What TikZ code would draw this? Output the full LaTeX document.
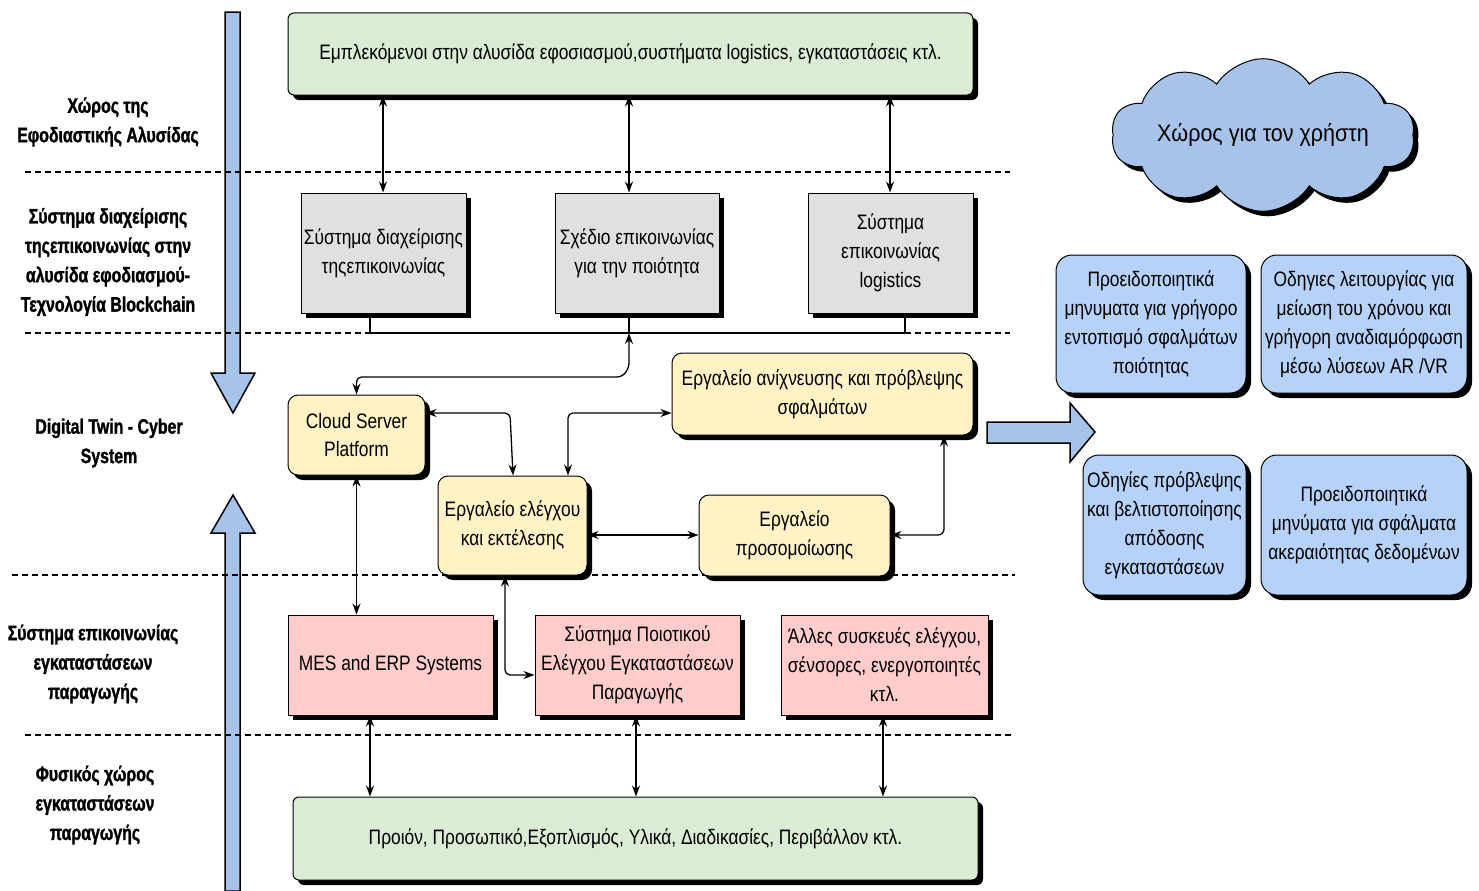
\documentclass[tikz,border=0pt]{standalone}
\usepackage{fontspec}
\setmainfont{Liberation Sans}
\newfontfamily\condfont{Liberation Sans}[FakeStretch=0.83]
\newfontfamily\lblfont{Liberation Sans Bold}[FakeStretch=0.76,FakeBold=1.3]
\newfontfamily\cloudfont{Liberation Sans}[FakeStretch=0.9]
\usetikzlibrary{shapes.symbols,shadows,arrows.meta,calc}

\definecolor{boxgreen}{RGB}{219,236,213}
\definecolor{boxgray}{RGB}{224,224,224}
\definecolor{boxyellow}{RGB}{255,242,196}
\definecolor{boxpink}{RGB}{255,204,204}
\definecolor{boxblue}{RGB}{183,210,248}
\definecolor{flowblue}{RGB}{167,195,234}

\tikzset{
  shade box/.style={draw=black, line width=1bp, align=center,
    font=\condfont\fontsize{21}{29}\selectfont, inner sep=2bp,
    drop shadow={shadow xshift=5bp, shadow yshift=-5bp, fill=black, opacity=1}},
  gbox/.style={shade box, fill=boxgreen, rounded corners=6bp},
  graybox/.style={shade box, fill=boxgray},
  ybox/.style={shade box, fill=boxyellow, rounded corners=10bp},
  pbox/.style={shade box, fill=boxpink},
  bbox/.style={shade box, fill=boxblue, rounded corners=16bp},
  lbl/.style={align=center, font=\lblfont\fontsize{21}{29.5}\selectfont, inner sep=0pt},
  conn/.style={line width=1.3bp, >={Stealth[length=11bp,width=8bp]}, <->},
  plain/.style={line width=1.3bp},
  layer/.style={line width=1.5bp, dash pattern=on 6bp off 4bp},
  flow/.style={draw=black, line width=1.5bp, fill=flowblue, line join=miter},
}

\begin{document}
\begin{tikzpicture}[x=1bp, y=-1bp]
\useasboundingbox (0,0) rectangle (1479,890);
\fill[white] (0,0) rectangle (1479,890);

% vertical flow arrows on the left
\draw[flow] (225,12) -- (240,12) -- (240,373) -- (255,373) -- (233,413)
  -- (211,373) -- (225,373) -- cycle;
\draw[flow] (233,495) -- (255,533) -- (240,533) -- (240,891) -- (225,891)
  -- (225,533) -- (211,533) -- cycle;

% layer separators
\draw[layer] (25,172) -- (1010,172);
\draw[layer] (25,333) -- (1010,333);
\draw[layer] (12,575) -- (1015,575);
\draw[layer] (25,735) -- (1012,735);

% layer labels
\node[lbl] (l1) at (108,122) {Χώρος της\\Εφοδιαστικής Αλυσίδας};
\node[lbl] (l2) at (108,262) {Σύστημα διαχείρισης\\τηςεπικοινωνίας στην\\αλυσίδα εφοδιασμού-\\Τεχνολογία Blockchain};
\node[lbl] (l3) at (109,443) {Digital Twin - Cyber\\System};
\node[lbl] (l4) at (93,664) {Σύστημα επικοινωνίας\\εγκαταστάσεων\\παραγωγής};
\node[lbl] (l5) at (95,805) {Φυσικός χώρος\\εγκαταστάσεων\\παραγωγής};

% supply chain layer
\node[gbox, minimum width=685bp, minimum height=82bp] (chain) at (630.5,54)
  {Εμπλεκόμενοι στην αλυσίδα εφοσιασμού,συστήματα logistics, εγκαταστάσεις κτλ.};

% communication management layer
\node[graybox, minimum width=165bp, minimum height=120bp] (g1) at (383.5,253)
  {Σύστημα διαχείρισης\\τηςεπικοινωνίας};
\node[graybox, minimum width=164bp, minimum height=120bp] (g2) at (637,253)
  {Σχέδιο επικοινωνίας\\για την ποιότητα};
\node[graybox, minimum width=165bp, minimum height=120bp] (g3) at (890.5,253)
  {Σύστημα\\επικοινωνίας\\logistics};

% digital twin layer
\node[ybox, minimum width=137bp, minimum height=80bp] (cs) at (356.5,435)
  {Cloud Server\\Platform};
\node[ybox, minimum width=301bp, minimum height=82bp] (det) at (822.5,394)
  {Εργαλείο ανίχνευσης και πρόβλεψης\\σφαλμάτων};
\node[ybox, minimum width=149bp, minimum height=99bp] (ctl) at (512.5,525.5)
  {Εργαλείο ελέγχου\\και εκτέλεσης};
\node[ybox, minimum width=191bp, minimum height=81bp] (sim) at (794.5,535.5)
  {Εργαλείο\\προσομοίωσης};

% plant communication layer
\node[pbox, minimum width=205bp, minimum height=100bp] (mes) at (390.5,665)
  {MES and ERP Systems};
\node[pbox, minimum width=205bp, minimum height=100bp] (qc) at (637.5,665)
  {Σύστημα Ποιοτικού\\Ελέγχου Εγκαταστάσεων\\Παραγωγής};
\node[pbox, minimum width=207bp, minimum height=100bp] (dev) at (884.5,665)
  {Άλλες συσκευές ελέγχου,\\σένσορες, ενεργοποιητές\\κτλ.};

% physical layer
\node[gbox, minimum width=685bp, minimum height=83bp] (phys) at (635.5,838.5)
  {Προιόν, Προσωπικό,Εξοπλισμός, Υλικά, Διαδικασίες, Περιβάλλον κτλ.};

% user space
\node[cloud, cloud puffs=10, cloud puff arc=115, aspect=2.8, draw=black,
  line width=1bp, fill=flowblue, minimum width=284bp, minimum height=100bp,
  inner sep=0pt, font=\cloudfont\fontsize{24}{28}\selectfont,
  drop shadow={shadow xshift=5bp, shadow yshift=-5bp, fill=black, opacity=1}]
  (user) at (1263,135) {Χώρος για τον χρήστη};

\node[bbox, minimum width=190bp, minimum height=138bp] (b1) at (1151,324)
  {Προειδοποιητικά\\μηνυματα για γρήγορο\\εντοπισμό σφαλμάτων\\ποιότητας};
\node[bbox, minimum width=206bp, minimum height=138bp] (b2) at (1364,324)
  {Οδηγιες λειτουργίας για\\μείωση του χρόνου και\\γρήγορη αναδιαμόρφωση\\μέσω λύσεων AR /VR};
\node[bbox, minimum width=163bp, minimum height=140bp] (b3) at (1164.5,525)
  {Οδηγίες πρόβλεψης\\και βελτιστοποίησης\\απόδοσης\\εγκαταστάσεων};
\node[bbox, minimum width=206bp, minimum height=140bp] (b4) at (1364,525)
  {Προειδοποιητικά\\μηνύματα για σφάλματα\\ακεραιότητας δεδομένων};

% output arrow towards the user space
\draw[flow] (987,422) -- (1070,422) -- (1070,403) -- (1095,432) -- (1070,462)
  -- (1070,443) -- (987,443) -- cycle;

% helper coordinates for connector positions
\coordinate (xa) at (383,0);
\coordinate (xb) at (629,0);
\coordinate (xc) at (890,0);
\coordinate (busL) at (370,333);
\coordinate (busM) at (629,333);
\coordinate (busR) at (905,333);

% supply chain <-> management systems
\draw[conn] (chain.south -| xa) -- (g1.north -| xa);
\draw[conn] (chain.south -| xb) -- (g2.north -| xb);
\draw[conn] (chain.south -| xc) -- (g3.north -| xc);

% common bus below the management systems
\draw[plain] (g1.south -| busL) -- (busL) -- (busR) -- (g3.south -| busR);
\draw[plain] (g2.south -| busM) -- (busM);
\draw[conn, rounded corners=5bp] (cs.north) -- (cs.north |- 0,377) -- (622,377) -- (629,368) -- (busM);

% digital twin internal links
\draw[conn, rounded corners=5bp] (cs.east |- 0,413) -- (510,413) -- (ctl.north -| 513,0);
\draw[conn, rounded corners=5bp] (ctl.north -| 568,0) -- (568,413) -- (det.west |- 0,413);
\draw[conn] (ctl.east |- 0,535) -- (sim.west |- 0,535);
\draw[conn, rounded corners=6bp] (sim.east |- 0,535) -- (944,535) -- (det.south -| 944,0);

% digital twin <-> plant communication
\draw[conn] (cs.south) -- (mes.north -| cs.south);
\draw[conn, rounded corners=5bp] (ctl.south -| 505,0) -- (505,675) -- (qc.west |- 0,675);

% plant communication <-> physical plant
\draw[conn] (mes.south -| 370,0) -- (phys.north -| 370,0);
\draw[conn] (qc.south -| 636,0) -- (phys.north -| 636,0);
\draw[conn] (dev.south -| 883,0) -- (phys.north -| 883,0);
\end{tikzpicture}
\end{document}
